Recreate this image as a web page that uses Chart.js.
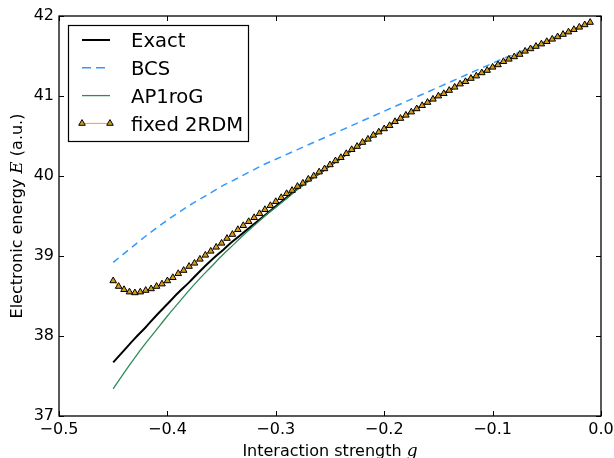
<!DOCTYPE html>
<html><head><meta charset="utf-8">
<style>html,body{margin:0;padding:0;background:#fff;}#wrap{width:614px;height:458px;}</style>
<script src="https://cdn.jsdelivr.net/npm/chart.js@4"></script>
</head><body><div id="wrap"><canvas id="c" width="614" height="458"></canvas></div>
<script>
// ---- data ----
const gLine = [-0.45,-0.44,-0.43,-0.42,-0.41,-0.40,-0.39,-0.38,-0.37,-0.36,-0.35,-0.34,-0.33,-0.32,-0.31,-0.30,-0.29,-0.28,-0.27,-0.26,-0.25,-0.24,-0.23,-0.22,-0.21,-0.20,-0.19,-0.18,-0.17,-0.16,-0.15,-0.14,-0.13,-0.12,-0.11,-0.10,-0.09,-0.08,-0.07,-0.06,-0.05,-0.04,-0.03,-0.02,-0.01];
const exactE = [37.67,37.82,37.97,38.11,38.26,38.40,38.54,38.67,38.81,38.94,39.06,39.18,39.29,39.40,39.51,39.62,39.73,39.84,39.94,40.03,40.13,40.22,40.32,40.41,40.50,40.59,40.68,40.76,40.84,40.92,41.00,41.07,41.15,41.22,41.29,41.36,41.43,41.49,41.56,41.62,41.68,41.74,41.80,41.86,41.92];
const bcsE = [38.92,39.03,39.14,39.25,39.35,39.45,39.54,39.63,39.71,39.79,39.87,39.94,40.01,40.08,40.15,40.21,40.27,40.33,40.39,40.45,40.51,40.57,40.63,40.69,40.75,40.81,40.87,40.93,40.99,41.05,41.11,41.17,41.23,41.29,41.35,41.41,41.47,41.52,41.58,41.63,41.69,41.75,41.80,41.86,41.92];
const ap1rogE = [37.34,37.54,37.73,37.91,38.08,38.25,38.41,38.57,38.72,38.86,39.00,39.13,39.26,39.38,39.50,39.61,39.72,39.83,39.93,40.03,40.13,40.22,40.32,40.41,40.50,40.59,40.68,40.76,40.84,40.92,41.00,41.07,41.15,41.22,41.29,41.36,41.43,41.49,41.56,41.62,41.68,41.74,41.80,41.86,41.92];
const gFixed = [-0.450,-0.445,-0.440,-0.435,-0.430,-0.425,-0.420,-0.415,-0.410,-0.405,-0.400,-0.395,-0.390,-0.385,-0.380,-0.375,-0.370,-0.365,-0.360,-0.355,-0.350,-0.345,-0.340,-0.335,-0.330,-0.325,-0.320,-0.315,-0.310,-0.305,-0.300,-0.295,-0.290,-0.285,-0.280,-0.275,-0.270,-0.265,-0.260,-0.255,-0.250,-0.245,-0.240,-0.235,-0.230,-0.225,-0.220,-0.215,-0.210,-0.205,-0.200,-0.195,-0.190,-0.185,-0.180,-0.175,-0.170,-0.165,-0.160,-0.155,-0.150,-0.145,-0.140,-0.135,-0.130,-0.125,-0.120,-0.115,-0.110,-0.105,-0.100,-0.095,-0.090,-0.085,-0.080,-0.075,-0.070,-0.065,-0.060,-0.055,-0.050,-0.045,-0.040,-0.035,-0.030,-0.025,-0.020,-0.015,-0.010];
const fixed2rdmE = [38.69,38.62,38.58,38.55,38.54,38.55,38.57,38.59,38.62,38.65,38.69,38.73,38.78,38.82,38.87,38.91,38.96,39.01,39.06,39.11,39.16,39.22,39.27,39.33,39.38,39.43,39.48,39.53,39.58,39.63,39.68,39.73,39.78,39.82,39.87,39.91,39.96,40.00,40.05,40.09,40.14,40.19,40.23,40.28,40.33,40.37,40.42,40.46,40.51,40.55,40.59,40.63,40.68,40.72,40.76,40.80,40.84,40.88,40.92,40.96,41.00,41.03,41.07,41.11,41.15,41.18,41.22,41.25,41.29,41.32,41.36,41.39,41.43,41.46,41.49,41.52,41.56,41.59,41.62,41.65,41.68,41.71,41.74,41.77,41.80,41.83,41.86,41.89,41.92];
const xTicks = [-0.5,-0.4,-0.3,-0.2,-0.1,0.0];
const yTicks = [37,38,39,40,41,42];
const seriesNames = ['Exact','BCS','AP1roG','fixed 2RDM'];
const xTitleParts = ['Interaction strength ', 'g'];
const yTitleParts = ['Electronic energy ', 'E', ' (a.u.)'];

// ---- styles ----
const COL = {exact:'#000000', bcs:'#3399ff', ap:'#2e8b57', fx:'#e8a630', fxFill:'#d49a17'};
const SANS = '"DejaVu Sans", sans-serif';
const fmtX = v => (Math.abs(v) < 1e-9 ? '0.0' : v.toFixed(1)).replace('-', '\u2212');
const pts = (xs, ys) => xs.map((x, i) => ({x: x, y: ys[i]}));

const deco = {
  id: 'deco',
  afterDraw(chart) {
    const c = chart.ctx, a = chart.chartArea, xs = chart.scales.x, ys = chart.scales.y;
    c.save();
    const seg = (x1,y1,x2,y2) => { c.beginPath(); c.moveTo(x1,y1); c.lineTo(x2,y2); c.stroke(); };
    c.strokeStyle = '#000'; c.lineWidth = 1; c.setLineDash([]);
    const tl = 5;
    xTicks.forEach(v => { const p = Math.round(xs.getPixelForValue(v)) + 0.5; seg(p, a.bottom, p, a.bottom - tl); seg(p, a.top, p, a.top + tl); });
    yTicks.forEach(v => { const p = Math.round(ys.getPixelForValue(v)) + 0.5; seg(a.left, p, a.left + tl, p); seg(a.right, p, a.right - tl, p); });
    c.lineWidth = 1.3;
    c.strokeRect(a.left, a.top, a.right - a.left, a.bottom - a.top);
    const fonts = {n: '16px ' + SANS, i: 'italic 17px "DejaVu Serif", serif'};
    function drawParts(parts, styles, cx, by) {
      let w = 0;
      parts.forEach((p, k) => { c.font = fonts[styles[k]]; w += c.measureText(p).width; });
      let x = cx - w / 2;
      c.fillStyle = '#000'; c.textAlign = 'left'; c.textBaseline = 'alphabetic';
      parts.forEach((p, k) => { c.font = fonts[styles[k]]; c.fillText(p, x, by); x += c.measureText(p).width; });
    }
    drawParts(xTitleParts, ['n','i'], (a.left + a.right) / 2, 456);
    c.save();
    c.translate(22, (a.top + a.bottom) / 2);
    c.rotate(-Math.PI / 2);
    drawParts(yTitleParts, ['n','i','n'], 0, 0);
    c.restore();
    // legend
    const L = {x: 68.5, y: 25.5, w: 180, h: 116};
    c.fillStyle = '#fff'; c.fillRect(L.x, L.y, L.w, L.h);
    c.strokeStyle = '#000'; c.lineWidth = 1.2; c.strokeRect(L.x, L.y, L.w, L.h);
    const rows = [40, 67.8, 95.6, 123.4];
    const x1 = 82, x2 = 110;
    const ds = chart.data.datasets;
    rows.forEach((ry, k) => {
      const d = ds[k];
      c.strokeStyle = d.borderColor; c.lineWidth = d.borderWidth; c.setLineDash(d.legendDash || []);
      seg(x1, ry, x2, ry);
      c.setLineDash([]);
      if (d.pointRadius > 0) {
        c.fillStyle = d.pointBackgroundColor; c.strokeStyle = d.pointBorderColor; c.lineWidth = d.pointBorderWidth;
        Chart.helpers.drawPoint(c, {pointStyle: 'triangle', radius: d.pointRadius, borderWidth: d.pointBorderWidth, rotation: 0}, x1, ry);
        Chart.helpers.drawPoint(c, {pointStyle: 'triangle', radius: d.pointRadius, borderWidth: d.pointBorderWidth, rotation: 0}, x2, ry);
      }
      c.fillStyle = '#000'; c.font = '19.6px ' + SANS; c.textAlign = 'left'; c.textBaseline = 'alphabetic';
      c.fillText(seriesNames[k], 131, ry + 7.2);
    });
    c.restore();
  }
};

new Chart(document.getElementById('c'), {
  type: 'line',
  data: {datasets: [
    {label: seriesNames[0], data: pts(gLine, exactE), borderColor: COL.exact, borderWidth: 2, pointRadius: 0, cubicInterpolationMode: 'monotone', order: 4},
    {label: seriesNames[1], data: pts(gLine, bcsE), borderColor: COL.bcs, borderWidth: 1.5, borderDash: [7, 5], legendDash: [9, 5], pointRadius: 0, cubicInterpolationMode: 'monotone', order: 3},
    {label: seriesNames[2], data: pts(gLine, ap1rogE), borderColor: COL.ap, borderWidth: 1.3, pointRadius: 0, cubicInterpolationMode: 'monotone', order: 2},
    {label: seriesNames[3], data: pts(gFixed, fixed2rdmE), borderColor: COL.fx, borderWidth: 1, tension: 0, order: 1,
     pointStyle: 'triangle', pointRadius: 3.8, pointBackgroundColor: COL.fxFill, pointBorderColor: '#000', pointBorderWidth: 1}
  ]},
  options: {
    responsive: false, animation: false, devicePixelRatio: 1,
    layout: {padding: {left: 0, top: 16, right: 13, bottom: 0}},
    plugins: {legend: {display: false}, tooltip: {enabled: false}},
    scales: {
      x: {type: 'linear', min: -0.5, max: 0,
          afterBuildTicks: s => { s.ticks = xTicks.map(v => ({value: v})); },
          afterFit: s => { s.height = 42; s.paddingLeft = 0; s.paddingRight = 0; },
          grid: {display: false, drawTicks: false}, border: {display: false},
          ticks: {padding: 4, color: '#000', font: {family: SANS, size: 16}, maxRotation: 0, autoSkip: false, callback: v => fmtX(v)}},
      y: {type: 'linear', min: 37, max: 42,
          afterBuildTicks: s => { s.ticks = yTicks.map(v => ({value: v})); },
          afterFit: s => { s.width = 59; s.paddingTop = 0; s.paddingBottom = 0; },
          grid: {display: false, drawTicks: false}, border: {display: false},
          ticks: {padding: 5, color: '#000', font: {family: SANS, size: 16}, autoSkip: false, callback: v => String(v)}}
    }
  },
  plugins: [deco]
});
</script></body></html>
